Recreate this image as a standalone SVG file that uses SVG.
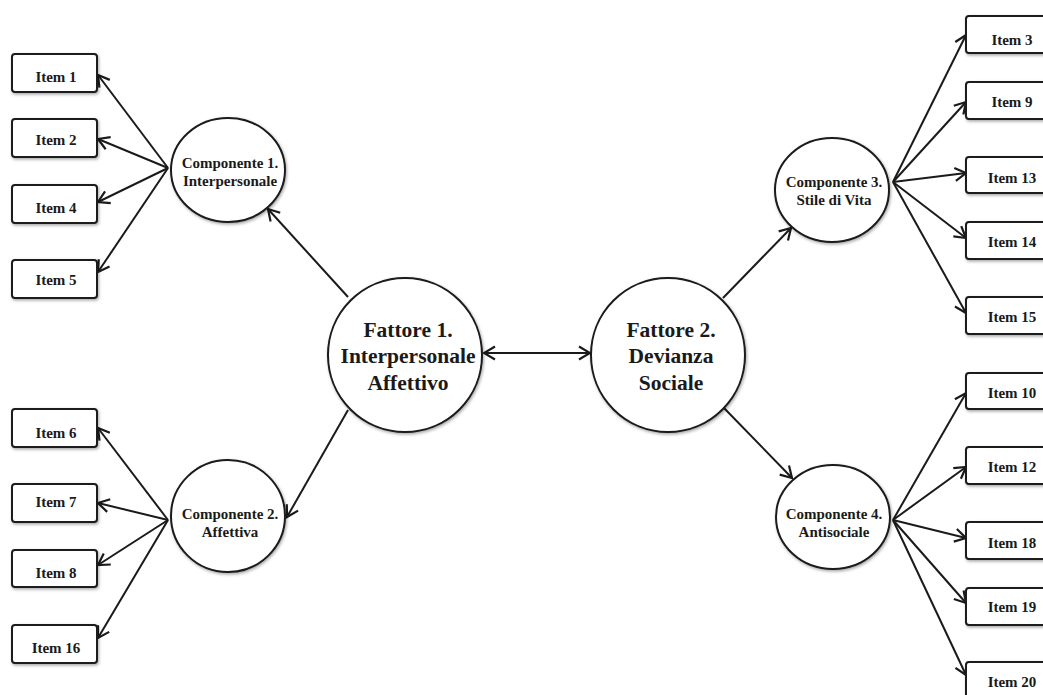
<svg xmlns="http://www.w3.org/2000/svg" width="1043" height="695" viewBox="0 0 1043 695">
<style>
.box{fill:#fff;stroke:#1a1a1a;stroke-width:2;filter:url(#sh)}
.circ{fill:#fff;stroke:#1a1a1a;stroke-width:2;filter:url(#sh)}
.t{font-family:"Liberation Serif","Times New Roman",serif;font-weight:bold;fill:#1a1a1a;text-anchor:middle}
.it{font-size:15px}
.ct{font-size:15px}
.ft{font-size:21.5px}
.c{stroke:#1a1a1a;stroke-width:2;fill:none;marker-end:url(#ah)}
</style>
<defs>
<filter id="sh" x="-20%" y="-20%" width="140%" height="140%">
<feDropShadow dx="1" dy="1.5" stdDeviation="1.5" flood-color="#000" flood-opacity="0.35"/>
</filter>
<marker id="ah" markerUnits="userSpaceOnUse" markerWidth="16" markerHeight="16" viewBox="0 0 16 16" refX="14" refY="8" orient="auto-start-reverse">
<path d="M3,1.5 L14,8 L3,14.5" fill="none" stroke="#1a1a1a" stroke-width="2.2"/>
</marker>
</defs>
<rect width="1043" height="695" fill="#fff"/>

<g id="connectors">
<line class="c" x1="168" y1="168" x2="98" y2="75"/>
<line class="c" x1="168" y1="168" x2="98" y2="139"/>
<line class="c" x1="168" y1="168" x2="98" y2="202"/>
<line class="c" x1="168" y1="168" x2="98" y2="272"/>
<line class="c" x1="168" y1="520" x2="98" y2="428"/>
<line class="c" x1="168" y1="520" x2="98" y2="503"/>
<line class="c" x1="168" y1="520" x2="98" y2="565"/>
<line class="c" x1="168" y1="520" x2="98" y2="638"/>
<line class="c" x1="348" y1="297" x2="268" y2="209"/>
<line class="c" x1="348" y1="410" x2="287" y2="517"/>
<line class="c" x1="484" y1="353" x2="590" y2="353" style="marker-start:url(#ah)"/>
<line class="c" x1="723" y1="298" x2="791" y2="228"/>
<line class="c" x1="723" y1="407" x2="792" y2="478"/>
<line class="c" x1="893" y1="182" x2="966" y2="35"/>
<line class="c" x1="893" y1="182" x2="966" y2="102"/>
<line class="c" x1="893" y1="182" x2="966" y2="173"/>
<line class="c" x1="893" y1="182" x2="966" y2="238"/>
<line class="c" x1="893" y1="182" x2="966" y2="313"/>
<line class="c" x1="893" y1="520" x2="966" y2="393"/>
<line class="c" x1="893" y1="520" x2="966" y2="467"/>
<line class="c" x1="893" y1="520" x2="966" y2="538"/>
<line class="c" x1="893" y1="520" x2="966" y2="603"/>
<line class="c" x1="893" y1="520" x2="966" y2="675"/>
</g>

<g id="item1"><rect class="box" x="12" y="54" width="85" height="38" rx="3"/><text class="t it" x="56" y="82">Item 1</text></g>
<g id="item2"><rect class="box" x="12" y="119" width="85" height="38" rx="3"/><text class="t it" x="56" y="145">Item 2</text></g>
<g id="item4"><rect class="box" x="12" y="185" width="85" height="38" rx="3"/><text class="t it" x="56" y="213">Item 4</text></g>
<g id="item5"><rect class="box" x="12" y="260" width="85" height="38" rx="3"/><text class="t it" x="56" y="285">Item 5</text></g>
<g id="item6"><rect class="box" x="12" y="409" width="85" height="38" rx="3"/><text class="t it" x="56" y="438">Item 6</text></g>
<g id="item7"><rect class="box" x="12" y="484" width="85" height="38" rx="3"/><text class="t it" x="56" y="507">Item 7</text></g>
<g id="item8"><rect class="box" x="12" y="550" width="85" height="37" rx="3"/><text class="t it" x="56" y="578">Item 8</text></g>
<g id="item16"><rect class="box" x="12" y="625" width="85" height="38" rx="3"/><text class="t it" x="56" y="653">Item 16</text></g>

<g id="item3"><rect class="box" x="966" y="16" width="92" height="37" rx="3"/><text class="t it" x="1012" y="45">Item 3</text></g>
<g id="item9"><rect class="box" x="966" y="82" width="92" height="37" rx="3"/><text class="t it" x="1012" y="107">Item 9</text></g>
<g id="item13"><rect class="box" x="966" y="157" width="92" height="36" rx="3"/><text class="t it" x="1012" y="183">Item 13</text></g>
<g id="item14"><rect class="box" x="966" y="222" width="92" height="37" rx="3"/><text class="t it" x="1012" y="247">Item 14</text></g>
<g id="item15"><rect class="box" x="966" y="297" width="92" height="37" rx="3"/><text class="t it" x="1012" y="322">Item 15</text></g>
<g id="item10"><rect class="box" x="966" y="373" width="92" height="36" rx="3"/><text class="t it" x="1012" y="398">Item 10</text></g>
<g id="item12"><rect class="box" x="966" y="447" width="92" height="37" rx="3"/><text class="t it" x="1012" y="472">Item 12</text></g>
<g id="item18"><rect class="box" x="966" y="522" width="92" height="37" rx="3"/><text class="t it" x="1012" y="548">Item 18</text></g>
<g id="item19"><rect class="box" x="966" y="588" width="92" height="37" rx="3"/><text class="t it" x="1012" y="612">Item 19</text></g>
<g id="item20"><rect class="box" x="966" y="662" width="92" height="40" rx="3"/><text class="t it" x="1012" y="687">Item 20</text></g>

<g id="comp1"><ellipse class="circ" cx="228" cy="170" rx="57" ry="52"/><text class="t ct" x="230" y="168">Componente 1.</text><text class="t ct" x="230" y="186">Interpersonale</text></g>
<g id="comp2"><ellipse class="circ" cx="228" cy="516" rx="57" ry="56"/><text class="t ct" x="230" y="519">Componente 2.</text><text class="t ct" x="230" y="537">Affettiva</text></g>
<g id="comp3"><ellipse class="circ" cx="832" cy="190" rx="57" ry="52"/><text class="t ct" x="834" y="187">Componente 3.</text><text class="t ct" x="834" y="205">Stile di Vita</text></g>
<g id="comp4"><ellipse class="circ" cx="833" cy="517" rx="57" ry="52"/><text class="t ct" x="834" y="519">Componente 4.</text><text class="t ct" x="834" y="537">Antisociale</text></g>

<g id="fattore1"><circle class="circ" cx="405" cy="355" r="77"/><text class="t ft" x="408" y="337">Fattore 1.</text><text class="t ft" x="408" y="363">Interpersonale</text><text class="t ft" x="408" y="390">Affettivo</text></g>
<g id="fattore2"><circle class="circ" cx="668" cy="355" r="77"/><text class="t ft" x="671" y="337">Fattore 2.</text><text class="t ft" x="671" y="363">Devianza</text><text class="t ft" x="671" y="390">Sociale</text></g>
</svg>
